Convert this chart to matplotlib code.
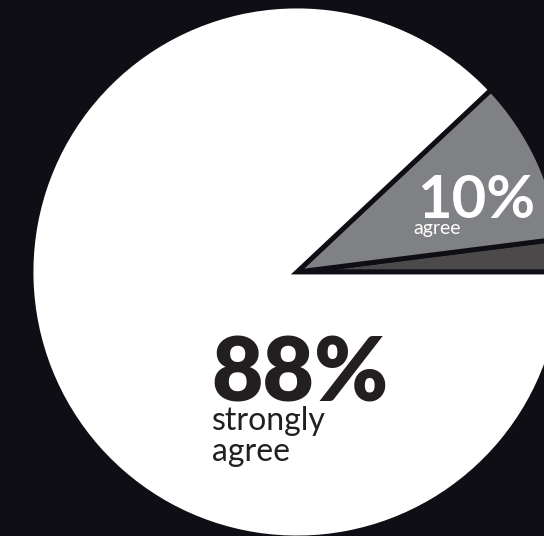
import matplotlib
matplotlib.use("Agg")
import matplotlib.pyplot as plt

# slice data, counter-clockwise from 3 o'clock
labels = ["disagree", "agree", "strongly agree"]
shares = [2, 10, 88]
colours = ["#4b4949", "#808184", "#ffffff"]

bg = "#100e15"
ink = "#231f20"

fig = plt.figure(figsize=(5.44, 5.36), dpi=100, facecolor=bg)
ax = fig.add_axes([0, 0, 1, 1])
ax.set_facecolor(bg)

# axes in pixel units, pie centre at the origin
ax.pie(shares, colors=colours, radius=266, center=(0, 0), startangle=0,
       counterclock=True,
       wedgeprops=dict(edgecolor=bg, linewidth=3.5, joinstyle="miter"))
ax.set_xlim(-297, 247)
ax.set_ylim(-264, 272)
ax.set_aspect("equal")
ax.axis("off")

ax.text(120, 54, f"{shares[1]}%", color="white", fontsize=43, family="Lato",
        fontweight="bold", ha="left", va="baseline")
ax.text(116, 38, labels[1], color="white", fontsize=14, family="Lato",
        ha="left", va="baseline")

ax.text(-86, -130, f"{shares[2]}%", color=ink, fontsize=64, family="Lato",
        fontweight="heavy", ha="left", va="baseline")
ax.text(-85, -158, "strongly", color=ink, fontsize=23, family="Lato",
        ha="left", va="baseline")
ax.text(-85, -189, "agree", color=ink, fontsize=23, family="Lato",
        ha="left", va="baseline")

fig.savefig("out.png", dpi=100, facecolor=bg)
